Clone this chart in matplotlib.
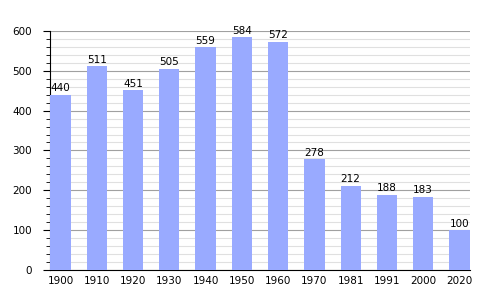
import matplotlib.pyplot as plt
from matplotlib.ticker import MultipleLocator

years = ['1900', '1910', '1920', '1930', '1940', '1950', '1960', '1970', '1981', '1991', '2000', '2020']
pop = [440, 511, 451, 505, 559, 584, 572, 278, 212, 188, 183, 100]

fig = plt.figure(figsize=(5, 3), dpi=100)
ax = fig.add_axes([0.1, 0.1, 0.84, 0.797])

x = range(len(years))
bars = ax.bar(x, pop, width=0.56, color='#99aaff', zorder=3)
for xi, v in zip(x, pop):
    ax.text(xi, v + 4, str(v), ha='center', va='bottom', fontsize=7.5, zorder=4)

ax.set_xlim(-0.29, len(years) - 1 + 0.29)
ax.set_ylim(0, 600)
ax.set_xticks(list(x))
ax.set_xticklabels(years, fontsize=7.5)
ax.tick_params(axis='x', length=0, pad=4)
ax.yaxis.set_major_locator(MultipleLocator(100))
ax.yaxis.set_minor_locator(MultipleLocator(20))
ax.tick_params(axis='y', which='major', length=5, labelsize=7.5, pad=8)
ax.tick_params(axis='y', which='minor', length=3)
ax.grid(axis='y', which='major', color='#a0a0a0', linewidth=0.8, zorder=0)
ax.grid(axis='y', which='minor', color='#e0e0e0', linewidth=0.8, zorder=0)
for s in ['top', 'right']:
    ax.spines[s].set_visible(False)

fig.savefig('out.png', dpi=100)
